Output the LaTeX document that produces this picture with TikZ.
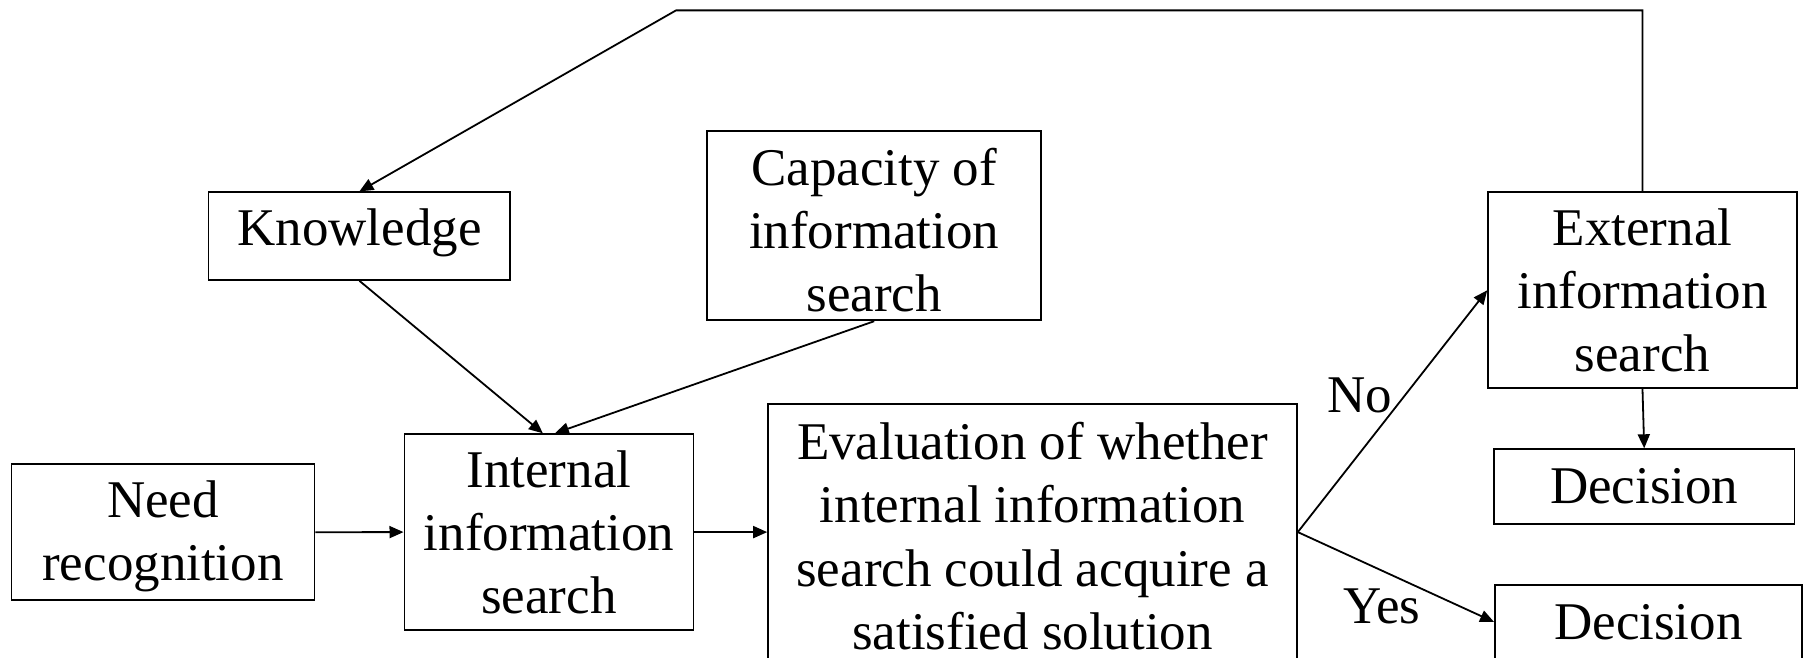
\documentclass[tikz,border=0pt]{standalone}
\usepackage{fontspec}
\setmainfont{Liberation Serif}
\usetikzlibrary{arrows.meta}
\begin{document}
\begin{tikzpicture}[x=0.5pt,y=-0.5pt,
  box/.style={draw,line width=0.9pt,inner sep=0pt,align=center,
    font=\fontsize{26.5}{31.6}\selectfont},
  lbl/.style={inner sep=0pt,font=\fontsize{26.5}{31.6}\selectfont},
  arr/.style={line width=0.9pt,-{Triangle[length=7pt,width=6pt]}}]
\useasboundingbox (0,0) rectangle (1806,658);
\clip (0,0) rectangle (1806,658);

% process boxes
\node[box,minimum width=151.5pt,minimum height=68pt] (need) at (163,532.2) {\rule{0pt}{22.5pt}Need\\recognition};
\node[box,minimum width=144.5pt,minimum height=97.9pt] (int) at (548.9,532.1) {Internal\\information\\search};
\node[box,minimum width=150.9pt,minimum height=43.8pt] (know) at (359.4,236.1) {Knowledge\rule[-9.2pt]{0pt}{1pt}};
\node[box,minimum width=167pt,minimum height=94.5pt] (cap) at (874.2,225.8) {\rule{0pt}{22.7pt}Capacity of\\information\\search};
\node[box,minimum width=264.4pt,minimum height=132pt] (eval) at (1032.5,536) {Evaluation of whether\\internal information\\search could acquire a\\satisfied solution};
\node[box,minimum width=154.4pt,minimum height=98pt] (ext) at (1642.5,290.3) {External\\information\\search};
\node[box,minimum width=150.3pt,minimum height=37.5pt] (dec1) at (1644.2,486.7) {Decision};
\node[box,minimum width=153.5pt,minimum height=37pt] (dec2) at (1648.5,622) {Decision};

% branch labels
\node[lbl] (no) at (1360,395) {No};
\node[lbl] (yes) at (1382,606) {Yes};

% connectors
\coordinate (split) at (eval.east |- int.east);
\draw[arr] (need.east) -- (int.west);
\draw[arr] (int.east) -- (int.east -| eval.west);
\draw[arr] (know.south) -- ([xshift=-3pt]int.north);
\draw[arr] (cap.south) -- ([xshift=3pt]int.north);
\draw[arr] (split) -- (ext.west);
\draw[arr] (split) -- (dec2.west);
\draw[arr] (ext.south) -- (dec1.north);

% feedback loop from external search back to knowledge
\coordinate (fbbend) at (676,10.4);
\draw[arr] (ext.north) -- (ext.north |- fbbend) -- (fbbend) -- (know.north);
\end{tikzpicture}
\end{document}
